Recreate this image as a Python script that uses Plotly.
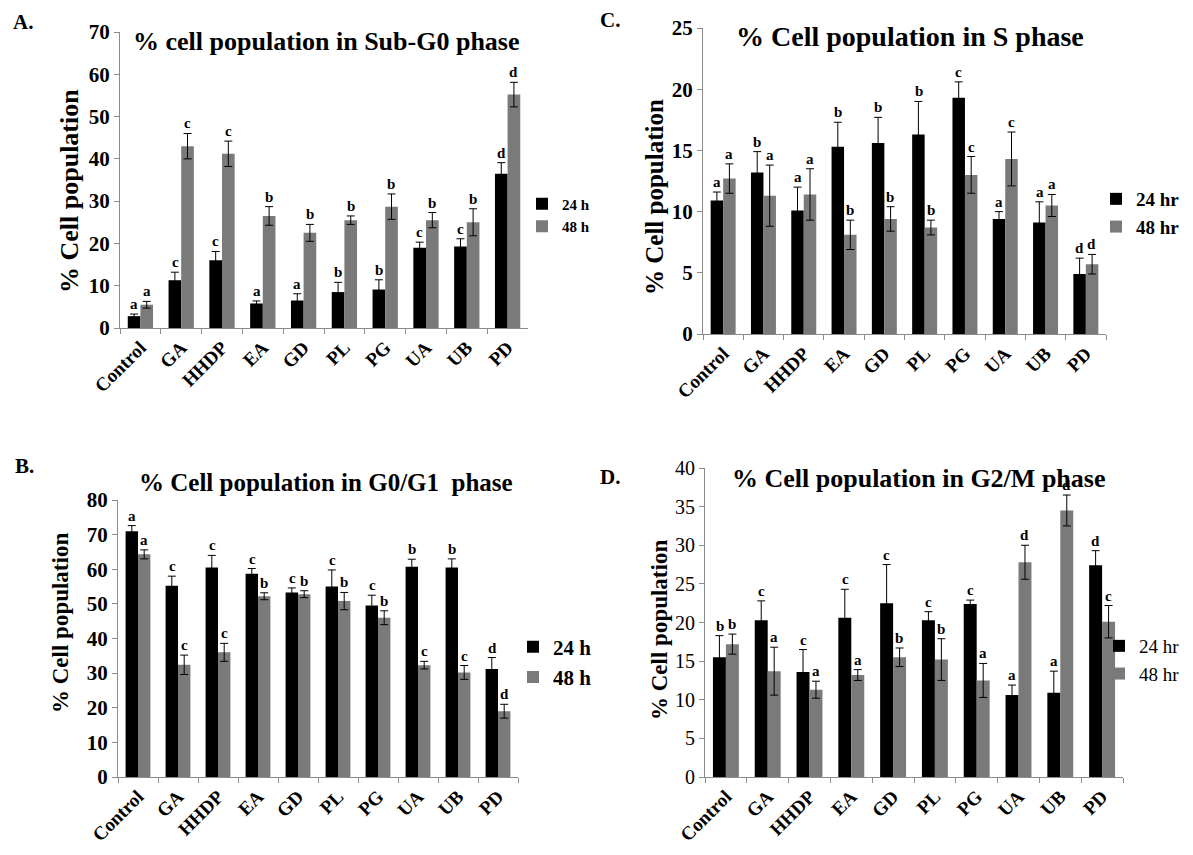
import plotly.graph_objects as go

categories = ["Control", "GA", "HHDP", "EA", "GD", "PL", "PG", "UA", "UB", "PD"]

# Panel A: Sub-G0
subg0_24 = [2.8, 11.3, 16.0, 5.8, 6.5, 8.5, 9.1, 19.0, 19.3, 36.5]
subg0_24_err = [0.5, 1.9, 2.1, 0.6, 1.6, 2.3, 2.3, 1.3, 1.8, 2.6]
subg0_48 = [5.5, 43.0, 41.2, 26.5, 22.5, 25.5, 28.7, 25.5, 25.0, 55.2]
subg0_48_err = [0.8, 3.0, 3.0, 2.2, 2.0, 1.0, 3.0, 1.8, 3.2, 2.9]
subg0_24_lbl = ["a", "c", "c", "a", "a", "b", "b", "c", "c", "d"]
subg0_48_lbl = ["a", "c", "c", "b", "b", "b", "b", "b", "b", "d"]

# Panel B: G0/G1
g0g1_24 = [71.0, 55.2, 60.5, 58.7, 53.3, 55.0, 49.5, 60.7, 60.5, 31.2]
g0g1_24_err = [1.6, 2.8, 3.5, 1.5, 1.3, 4.8, 3.0, 2.2, 2.5, 3.3]
g0g1_48 = [64.3, 32.4, 36.0, 52.2, 52.8, 50.8, 46.0, 32.3, 30.2, 19.0]
g0g1_48_err = [1.3, 2.8, 2.6, 1.0, 1.0, 2.5, 2.0, 1.1, 2.0, 2.0]
g0g1_24_lbl = ["a", "c", "c", "c", "c", "c", "c", "b", "b", "d"]
g0g1_48_lbl = ["a", "c", "c", "b", "b", "b", "b", "c", "c", "d"]

# Panel C: S phase
s_24 = [10.9, 13.2, 10.1, 15.3, 15.6, 16.3, 19.3, 9.4, 9.1, 4.9]
s_24_err = [0.7, 1.7, 1.9, 2.0, 2.1, 2.7, 1.3, 0.6, 1.7, 1.3]
s_48 = [12.7, 11.3, 11.4, 8.1, 9.4, 8.7, 13.0, 14.3, 10.5, 5.7]
s_48_err = [1.2, 2.5, 2.1, 1.2, 1.0, 0.6, 1.5, 2.2, 0.9, 0.8]
s_24_lbl = ["a", "b", "a", "b", "b", "b", "c", "a", "a", "d"]
s_48_lbl = ["a", "a", "a", "b", "b", "b", "c", "c", "a", "d"]

# Panel D: G2/M
g2m_24 = [15.5, 20.3, 13.6, 20.6, 22.5, 20.3, 22.4, 10.6, 10.9, 27.4]
g2m_24_err = [2.8, 2.5, 2.9, 3.7, 5.0, 1.1, 0.5, 1.3, 2.8, 1.9]
g2m_48 = [17.2, 13.7, 11.3, 13.2, 15.5, 15.2, 12.5, 27.8, 34.5, 20.1]
g2m_48_err = [1.3, 3.1, 1.1, 0.7, 1.2, 2.7, 2.2, 2.2, 2.0, 2.1]
g2m_24_lbl = ["b", "c", "c", "c", "c", "c", "c", "a", "a", "d"]
g2m_48_lbl = ["b", "a", "a", "a", "b", "b", "a", "d", "d", "c"]

# page is 1193x855; the html body keeps an 8px margin, so the figure is
# made 16px smaller and page coordinates are shifted by 8px
OFF = 8
W, H = 1193 - 2 * OFF, 855 - 2 * OFF
SERIF = "Liberation Serif, Times New Roman, serif"
BLACK = "#000000"
GRAY = "#7a7a7a"
AXIS = "#8c8c8c"


def px_x(p):
    return (p - OFF) / W


def px_y(p):
    return 1 - (p - OFF) / H


panels = [
    dict(n=1, label="A.", title="% cell population in Sub-G0 phase",
         v24=subg0_24, e24=subg0_24_err, v48=subg0_48, e48=subg0_48_err,
         l24=subg0_24_lbl, l48=subg0_48_lbl, rng=[0, 70], dtick=10,
         xd=[120, 528], yd=[32, 328], legname=("24 h", "48 h"),
         leg=dict(x=522, y=215, size=15, weight="bold", anchor="left"),
         lab=(11, 22), tit=(326, 42, 26), ytit=(70, 191, 26), tickbold=True),
    dict(n=2, label="B.", title="% Cell population in G0/G1  phase",
         v24=g0g1_24, e24=g0g1_24_err, v48=g0g1_48, e48=g0g1_48_err,
         l24=g0g1_24_lbl, l48=g0g1_48_lbl, rng=[0, 80], dtick=10,
         xd=[118, 518], yd=[500, 777], legname=("24 h", "48 h"),
         leg=dict(x=513, y=662, size=21, weight="bold", anchor="left"),
         lab=(13, 466), tit=(326, 482, 25), ytit=(60, 623, 23), tickbold=True),
    dict(n=3, label="C.", title="% Cell population in S phase",
         v24=s_24, e24=s_24_err, v48=s_48, e48=s_48_err,
         l24=s_24_lbl, l48=s_48_lbl, rng=[0, 25], dtick=5,
         xd=[703, 1106], yd=[28, 334], legname=("24 hr", "48 hr"),
         leg=dict(x=1185, y=213, size=19, weight="bold", anchor="right"),
         lab=(598, 20), tit=(910, 37, 28), ytit=(655, 197, 25), tickbold=True),
    dict(n=4, label="D.", title="% Cell population in G2/M phase",
         v24=g2m_24, e24=g2m_24_err, v48=g2m_48, e48=g2m_48_err,
         l24=g2m_24_lbl, l48=g2m_48_lbl, rng=[0, 40], dtick=5,
         xd=[705, 1123], yd=[468, 777], legname=("24 hr", "48 hr"),
         leg=dict(x=1185, y=660, size=19, weight="normal", anchor="right"),
         lab=(598, 477), tit=(918, 478, 26), ytit=(659, 630, 23), tickbold=False),
]

fig = go.Figure()
annotations = []
layout = {}

for p in panels:
    n = p["n"]
    sx = "" if n == 1 else str(n)
    xa, ya = "x" + sx, "y" + sx
    legkey = "legend" + sx
    fig.add_trace(go.Bar(
        x=categories, y=p["v24"], name=p["legname"][0], marker_color=BLACK,
        marker_line_width=0, xaxis=xa, yaxis=ya, legend=legkey,
        error_y=dict(type="data", array=p["e24"], color=BLACK, thickness=1, width=4),
    ))
    fig.add_trace(go.Bar(
        x=categories, y=p["v48"], name=p["legname"][1], marker_color=GRAY,
        marker_line_width=0, xaxis=xa, yaxis=ya, legend=legkey,
        error_y=dict(type="data", array=p["e48"], color=BLACK, thickness=1, width=4),
    ))
    tickfont = dict(family=SERIF, size=21 if p["tickbold"] else 20, color=BLACK,
                    weight="bold" if p["tickbold"] else "normal")
    layout["xaxis" + sx] = dict(
        domain=[px_x(p["xd"][0]), px_x(p["xd"][1])], anchor=ya,
        type="category", categoryorder="array", categoryarray=categories,
        tickson="boundaries", ticks="outside", ticklen=5, tickcolor=AXIS,
        showline=True, linecolor=AXIS, linewidth=1, showgrid=False,
        automargin=False,
        tickangle=-45, tickfont=dict(family=SERIF, size=19, color=BLACK, weight="bold"),
    )
    layout["yaxis" + sx] = dict(
        domain=[px_y(p["yd"][1]), px_y(p["yd"][0])], anchor=xa,
        range=p["rng"], dtick=p["dtick"], tick0=0, ticks="outside", ticklen=5,
        tickcolor=AXIS, showline=True, linecolor=AXIS, linewidth=1,
        showgrid=False, zeroline=False, automargin=False, tickfont=tickfont,
    )
    lg = p["leg"]
    layout[legkey] = dict(
        x=px_x(lg["x"]), y=px_y(lg["y"]), xanchor=lg["anchor"], yanchor="middle",
        bgcolor="rgba(0,0,0,0)", itemwidth=30, tracegroupgap=0,
        font=dict(family=SERIF, size=lg["size"], color=BLACK, weight=lg["weight"]),
    )
    # significance letters
    for i in range(len(categories)):
        for off, vals, errs, lbls in ((-0.15, p["v24"], p["e24"], p["l24"]),
                                      (0.15, p["v48"], p["e48"], p["l48"])):
            annotations.append(dict(
                x=i + off, y=vals[i] + errs[i], xref=xa, yref=ya,
                text=lbls[i], showarrow=False, yanchor="bottom", yshift=0,
                font=dict(family=SERIF, size=15, color=BLACK, weight="bold"),
            ))
    # panel label
    annotations.append(dict(
        x=px_x(p["lab"][0]), y=px_y(p["lab"][1]), xref="paper", yref="paper",
        text=p["label"], showarrow=False, xanchor="left", yanchor="middle",
        font=dict(family=SERIF, size=21, color=BLACK, weight="bold"),
    ))
    # title
    annotations.append(dict(
        x=px_x(p["tit"][0]), y=px_y(p["tit"][1]), xref="paper", yref="paper",
        text=p["title"], showarrow=False, xanchor="center", yanchor="middle",
        font=dict(family=SERIF, size=p["tit"][2], color=BLACK, weight="bold"),
    ))
    # y-axis title
    annotations.append(dict(
        x=px_x(p["ytit"][0]), y=px_y(p["ytit"][1]), xref="paper", yref="paper",
        text="% Cell population", showarrow=False, textangle=-90,
        xanchor="center", yanchor="middle",
        font=dict(family=SERIF, size=p["ytit"][2], color=BLACK, weight="bold"),
    ))

fig.update_layout(
    width=W, height=H, margin=dict(l=0, r=0, t=0, b=0),
    paper_bgcolor="white", plot_bgcolor="white",
    barmode="group", bargap=0.38, bargroupgap=0,
    showlegend=True, annotations=annotations, **layout,
)

fig.write_html("out.html")
